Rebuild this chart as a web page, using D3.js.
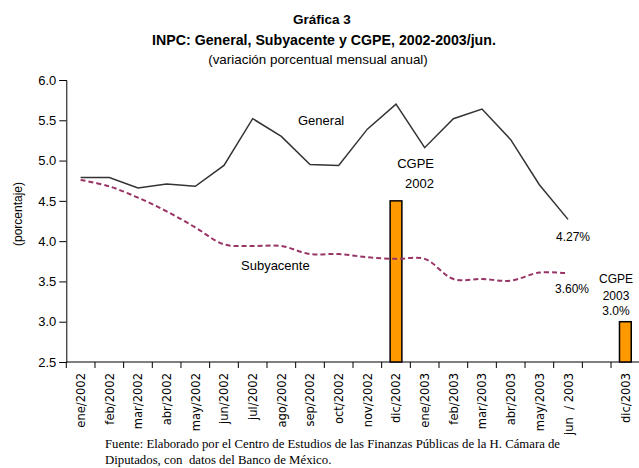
<!DOCTYPE html>
<html><head><meta charset="utf-8">
<script src="https://cdn.jsdelivr.net/npm/d3@7"></script>
<style>body{margin:0;background:#fff}svg{display:block}</style>
</head><body>
<script>
const categories = ["ene/2002","feb/2002","mar/2002","abr/2002","may/2002","jun/2002","jul/2002","ago/2002","sep/2002","oct/2002","nov/2002","dic/2002","ene/2003","feb/2003","mar/2003","abr/2003","may/2003","jun  / 2003","","dic/2003"];
const generalVals = [4.79,4.79,4.66,4.71,4.68,4.94,5.52,5.30,4.95,4.94,5.39,5.70,5.16,5.52,5.64,5.26,4.70,4.27];
const subyVals = [4.76,4.68,4.54,4.37,4.17,3.96,3.94,3.94,3.84,3.84,3.80,3.78,3.78,3.53,3.53,3.51,3.61,3.60];
const cgpeCats = ["dic/2002","dic/2003"];
const cgpeVals = [4.5,3.0];
const yTicks = [2.5,3.0,3.5,4.0,4.5,5.0,5.5,6.0];

const W=639,H=468;
const svg=d3.select("body").append("svg").attr("width",W).attr("height",H);
const x=d3.scaleBand().domain(categories.map((c,i)=>i)).range([66.3,639.7]).padding(0);
const y=d3.scaleLinear().domain([2.5,6]).range([362,80]);
const sans="Liberation Sans, Arial, sans-serif";

// titles
svg.append("text").attr("x",322).attr("y",24).attr("text-anchor","middle").attr("font-family",sans).attr("font-weight","bold").attr("font-size",13.5).text("Gráfica 3");
svg.append("text").attr("x",324).attr("y",45).attr("text-anchor","middle").attr("font-family",sans).attr("font-weight","bold").attr("font-size",14.2).text("INPC: General, Subyacente y CGPE, 2002-2003/jun.");
svg.append("text").attr("x",318).attr("y",64).attr("text-anchor","middle").attr("font-family",sans).attr("font-size",13.4).text("(variación porcentual mensual anual)");

// y axis
const ya=svg.append("g").attr("transform","translate(66.3,0)").call(d3.axisLeft(y).tickValues(yTicks).tickFormat(d3.format(".1f")).tickSize(7).tickPadding(3));
ya.select(".domain").attr("stroke","#000");
ya.selectAll("text").attr("font-family",sans).attr("font-size",13).attr("fill","#000");
svg.append("text").attr("transform","translate(22,214) rotate(-90)").attr("text-anchor","middle").attr("font-family",sans).attr("font-size",12).text("(porcentaje)");

// x axis with band-boundary ticks
const xg=svg.append("g");
xg.append("line").attr("x1",66.3).attr("x2",639.7).attr("y1",362).attr("y2",362).attr("stroke","#000");
d3.range(categories.length+1).forEach(i=>{
  const xx = i<categories.length ? x(i) : x(categories.length-1)+x.bandwidth();
  xg.append("line").attr("x1",xx).attr("x2",xx).attr("y1",362).attr("y2",368).attr("stroke","#000");
});
categories.forEach((c,i)=>{
  if(!c) return;
  xg.append("text").attr("transform",`translate(${x(i)+x.bandwidth()/2},373) rotate(-90)`)
    .attr("text-anchor","end").attr("dy","0.35em").attr("font-family","DejaVu Sans Condensed, DejaVu Sans, sans-serif").attr("font-stretch","condensed").attr("font-size",12.8).style("white-space","pre").text(c);
});

// bars
cgpeCats.forEach((c,k)=>{
  const i=categories.indexOf(c);
  const bw=x.bandwidth()*0.41;
  svg.append("rect").attr("x",x(i)+x.bandwidth()/2-bw/2).attr("y",y(cgpeVals[k])).attr("width",bw).attr("height",y(2.5)-y(cgpeVals[k]))
    .attr("fill","#FF9900").attr("stroke","#000").attr("stroke-width",1.5);
});

// lines
const cx=i=>x(i)+x.bandwidth()/2;
svg.append("path").datum(subyVals).attr("fill","none").attr("stroke","#993366").attr("stroke-width",2).attr("stroke-dasharray","5,3")
  .attr("d",d3.line().x((d,i)=>cx(i)).y(d=>y(d)).curve(d3.curveCatmullRom.alpha(0.5)));
svg.append("path").datum(generalVals).attr("fill","none").attr("stroke","#333").attr("stroke-width",1.5)
  .attr("d",d3.line().x((d,i)=>cx(i)).y(d=>y(d)));

// annotations
const ann=(t,xx,yy,anchor,fs)=>svg.append("text").attr("x",xx).attr("y",yy).attr("text-anchor",anchor||"start").attr("font-family",sans).attr("font-size",fs||13).text(t);
ann("General",298,125);
ann("Subyacente",241,270);
ann("CGPE",434,168,"end");
ann("2002",434,188,"end");
ann("4.27%",556,241,"start",12);
ann("3.60%",555,293,"start",12);
ann("CGPE",616,283,"middle",12);
ann("2003",616,300,"middle",12);
ann("3.0%",616,315,"middle",12);

// source
const serif="Liberation Serif, Times New Roman, serif";
svg.append("text").attr("x",105).attr("y",448).attr("font-family",serif).attr("font-size",12.8).attr("textLength",455).attr("lengthAdjust","spacingAndGlyphs").text("Fuente: Elaborado por el Centro de Estudios de las Finanzas Públicas de la H. Cámara de");
svg.append("text").attr("x",105).attr("y",464).attr("font-family",serif).attr("font-size",12.8).style("white-space","pre").text("Diputados, con  datos del Banco de México.");
</script>
</body></html>
